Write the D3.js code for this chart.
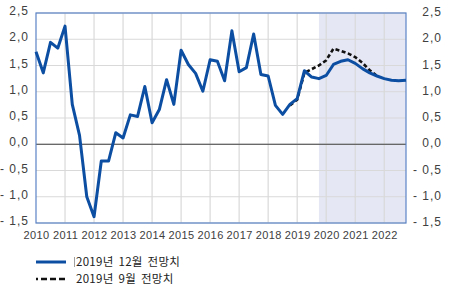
<!DOCTYPE html>
<html>
<head>
<meta charset="utf-8">
<script src="https://cdn.jsdelivr.net/npm/d3@7"></script>
<style>
  body { margin: 0; background: #fff; }
  svg { display: block; }
  .num { font-family: "Liberation Sans", Arial, sans-serif; fill: #404040; }
  .leg { font-family: "Noto Sans CJK KR", sans-serif; fill: #222; }
</style>
</head>
<body>
<div id="chart"></div>
<script>
// quarterly series, 2010Q1 .. 2022Q4
const years = [2010, 2011, 2012, 2013, 2014, 2015, 2016, 2017, 2018, 2019, 2020, 2021, 2022];
const quarters = years.flatMap(y => [1, 2, 3, 4].map(q => y + "Q" + q));

const dec2019 = [
  1.76, 1.36, 1.94, 1.83,
  2.25, 0.76, 0.17, -1.00,
  -1.38, -0.32, -0.32, 0.22,
  0.12, 0.56, 0.53, 1.10,
  0.41, 0.66, 1.23, 0.76,
  1.79, 1.52, 1.35, 1.01,
  1.61, 1.58, 1.21, 2.16,
  1.38, 1.46, 2.10, 1.33,
  1.30, 0.74, 0.57, 0.76,
  0.87, 1.40, 1.28, 1.25,
  1.31, 1.52, 1.58, 1.61,
  1.54, 1.44, 1.36, 1.30,
  1.25, 1.22, 1.21, 1.22
];
// September forecast, 2018Q4 .. 2021Q4
const sep2019Start = "2018Q4";
const sep2019 = [0.74, 0.85, 1.36, 1.43, 1.50, 1.60, 1.82, 1.78, 1.73, 1.66, 1.55, 1.41, 1.30];

const shadeFrom = "2019Q4";
const yTicks = [-1.5, -1, -0.5, 0, 0.5, 1, 1.5, 2, 2.5];
const seriesNames = ["2019년 12월 전망치", "2019년 9월 전망치"];

const W = 471, H = 288;
const margin = {left: 36, right: 406, top: 13, bottom: 223};
const blue = "#0b4ea2";

const svg = d3.select("#chart").append("svg")
  .attr("width", W).attr("height", H);

const t = q => years[0] + quarters.indexOf(q) / 4;
const x = d3.scaleLinear().domain([years[0], t(quarters[quarters.length - 1])]).range([margin.left, margin.right]);
const y = d3.scaleLinear().domain([-1.5, 2.5]).range([margin.bottom, margin.top]);

const fmt = v => (v < 0 ? "- " : "") + Math.abs(v).toFixed(1).replace(".", ",");

// forecast shading
svg.append("rect")
  .attr("x", x(t(shadeFrom))).attr("y", margin.top)
  .attr("width", margin.right - x(t(shadeFrom))).attr("height", margin.bottom - margin.top)
  .attr("fill", "#e5e7f5");

// grid
const grid = svg.append("g");
grid.selectAll(".hg").data(yTicks).join("line")
  .attr("x1", margin.left).attr("x2", margin.right)
  .attr("y1", d => y(d)).attr("y2", d => y(d))
  .attr("stroke", "#d9d9d9").attr("stroke-width", 1.2);
grid.selectAll(".vg").data(years.slice(1)).join("line")
  .attr("x1", d => x(d)).attr("x2", d => x(d))
  .attr("y1", margin.top).attr("y2", margin.bottom)
  .attr("stroke", "#d9d9d9").attr("stroke-width", 1.2);

// zero line
svg.append("line")
  .attr("x1", margin.left).attr("x2", margin.right)
  .attr("y1", y(0)).attr("y2", y(0))
  .attr("stroke", "#404040").attr("stroke-width", 1.2);

// frame
svg.append("rect")
  .attr("x", margin.left).attr("y", margin.top)
  .attr("width", margin.right - margin.left).attr("height", margin.bottom - margin.top)
  .attr("fill", "none").attr("stroke", "#5b84c6").attr("stroke-width", 1.2);

// y labels both sides
svg.append("g").selectAll("text").data(yTicks).join("text")
  .attr("class", "num")
  .attr("x", 29).attr("y", d => y(d) - 2).attr("dy", "0.35em")
  .attr("text-anchor", "end")
  .attr("font-size", 12).attr("letter-spacing", 1)
  .text(fmt);
svg.append("g").selectAll("text").data(yTicks).join("text")
  .attr("class", "num")
  .attr("x", 442).attr("y", d => y(d) - 1).attr("dy", "0.35em")
  .attr("text-anchor", "end")
  .attr("font-size", 12).attr("letter-spacing", 1)
  .text(fmt);

// x axis labels
const xAxis = svg.append("g")
  .attr("transform", "translate(0," + margin.bottom + ")")
  .call(d3.axisBottom(x).tickValues(years).tickFormat(d3.format("d")).tickSize(0).tickPadding(8));
xAxis.select(".domain").remove();
xAxis.selectAll("text")
  .attr("class", "num")
  .attr("font-size", 11).attr("letter-spacing", 0.4);

// lines
const line = d3.line()
  .x(d => x(d.t))
  .y(d => y(d.v));

const s0 = quarters.indexOf(sep2019Start);
const sepData = sep2019.map((v, i) => ({ t: t(quarters[s0 + i]), v }));
const decData = dec2019.map((v, i) => ({ t: t(quarters[i]), v }));

svg.append("path")
  .datum(sepData)
  .attr("fill", "none")
  .attr("stroke", "#111")
  .attr("stroke-width", 2.6)
  .attr("stroke-dasharray", "4,2.5")
  .attr("d", line);

svg.append("path")
  .datum(decData)
  .attr("fill", "none")
  .attr("stroke", blue)
  .attr("stroke-width", 3)
  .attr("stroke-linejoin", "round")
  .attr("d", line);

// legend
const leg = svg.append("g");
leg.append("line")
  .attr("x1", 36).attr("x2", 66).attr("y1", 262).attr("y2", 262)
  .attr("stroke", blue).attr("stroke-width", 3);
leg.append("line")
  .attr("x1", 36).attr("x2", 66).attr("y1", 279).attr("y2", 279)
  .attr("stroke", "#111").attr("stroke-width", 2.6)
  .attr("stroke-dasharray", "2,3,6,3,6,3,6");
leg.append("line")
  .attr("x1", 74.5).attr("x2", 74.5).attr("y1", 257).attr("y2", 267)
  .attr("stroke", "#888").attr("stroke-width", 0.8);
leg.selectAll("text").data(seriesNames).join("text")
  .attr("class", "leg")
  .attr("x", 76).attr("y", (d, i) => 262 + i * 17).attr("dy", "0.35em")
  .attr("font-size", 11.5).attr("letter-spacing", 0.3).attr("word-spacing", 2)
  .text(d => d);
</script>
</body>
</html>
